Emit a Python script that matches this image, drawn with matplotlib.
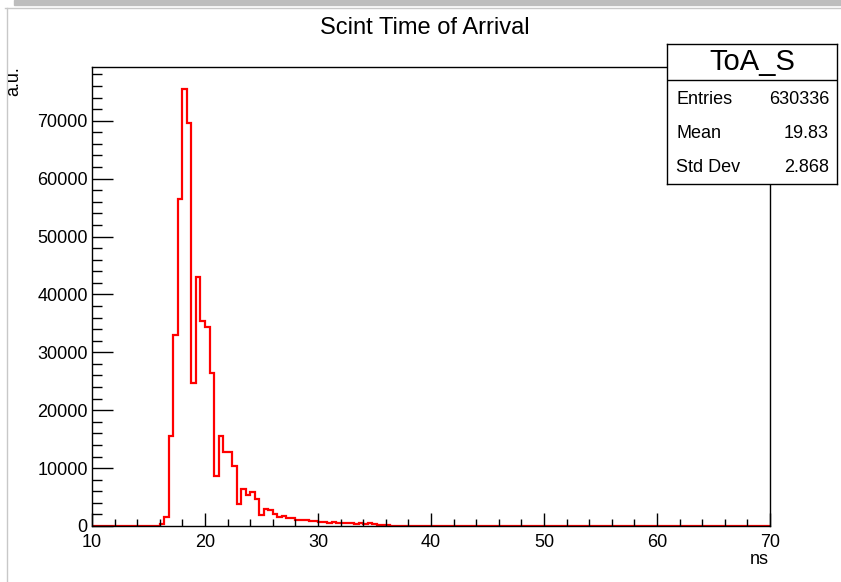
import numpy as np
import matplotlib
matplotlib.use("Agg")
import matplotlib.pyplot as plt
from matplotlib.lines import Line2D
from matplotlib.patches import Rectangle

plt.rcParams['font.family'] = ['Liberation Sans', 'DejaVu Sans']

# histogram ToA_S : 150 bins from 10 to 70 ns
x_lo = 10.0
x_hi = 70.0
n_bins = 150

# bin contents, starting at the bin 16.0-16.4 ns
counts_peak = [300, 1500, 15500, 33000, 56500, 75500, 69600, 24700, 43000,
               35400, 34400, 26500, 8700, 15500, 12700, 12700, 10300, 3800,
               6400, 5400, 5900, 4700, 1900, 3000, 2800, 2100, 1600, 1750,
               1300, 1400, 1100, 950, 1050, 900, 800, 700, 650, 600, 650,
               480, 600, 520, 500, 420, 440, 380, 500, 280, 220, 150, 100,
               80, 60, 50, 40, 30, 25, 20, 15, 10]
first_bin = 15  # bins 10.0 .. 16.0 are empty

stats_entries = "630336"
stats_mean = "19.83"
stats_std = "2.868"

edges = np.linspace(x_lo, x_hi, n_bins + 1)
counts = np.zeros(n_bins)
counts[first_bin:first_bin + len(counts_peak)] = counts_peak

fig = plt.figure(figsize=(8.41, 5.82), dpi=100)

# grey window border like the ROOT canvas screenshot
fig.patches.append(Rectangle((14 / 841, 1 - 5 / 582), 1, 5 / 582,
                             transform=fig.transFigure, color='#bdbdbd', zorder=0))
fig.lines.append(Line2D([5 / 841, 1], [1 - 7.5 / 582, 1 - 7.5 / 582],
                        transform=fig.transFigure, color='#c8c8c8', lw=1))
fig.lines.append(Line2D([7 / 841, 7 / 841], [0, 1 - 7.5 / 582],
                        transform=fig.transFigure, color='#c8c8c8', lw=1))

ax = fig.add_axes([92 / 841, 1 - 526 / 582, 678 / 841, 459 / 582])
ax.stairs(counts, edges, color='red', lw=1.6)
ax.set_xlim(x_lo, x_hi)
ax.set_ylim(0, 1.05 * counts.max())

ax.set_xticks(np.arange(10, 71, 10))
ax.set_xticks(np.arange(10, 71, 2), minor=True)
ax.set_yticks(np.arange(0, 70001, 10000))
ax.set_yticks(np.arange(0, 78001, 2000), minor=True)
ax.tick_params(axis='both', which='both', direction='in', labelsize=13,
               width=1, colors='black')
ax.tick_params(axis='x', which='major', length=9.5, pad=6)
ax.tick_params(axis='x', which='minor', length=4.7)
ax.tick_params(axis='y', which='major', length=15, pad=3)
ax.tick_params(axis='y', which='minor', length=7.5)
for s in ax.spines.values():
    s.set_linewidth(1)

fig.text(425 / 841, 1 - 28 / 582, "Scint Time of Arrival", ha='center',
         va='center', fontsize=17)
fig.text(14 / 841, 1 - 81 / 582, "a.u.", rotation=90, ha='center',
         va='center', fontsize=13)
fig.text(759 / 841, 1 - 560 / 582, "ns", ha='center', va='center', fontsize=13)

# stats box
sb = fig.add_axes([667 / 841, 1 - 184 / 582, 170 / 841, 140 / 582])
sb.set_xlim(0, 170)
sb.set_ylim(140, 0)
sb.set_xticks([])
sb.set_yticks([])
sb.set_facecolor('white')
for s in sb.spines.values():
    s.set_linewidth(1)
sb.axhline(36, color='black', lw=1)
sb.text(85, 18, "ToA_S", ha='center', va='center', fontsize=21)
rows = [("Entries", stats_entries), ("Mean", stats_mean), ("Std Dev", stats_std)]
for i, (name, val) in enumerate(rows):
    yy = 55 + i * 34
    sb.text(9, yy, name, ha='left', va='center', fontsize=13)
    sb.text(162, yy, val, ha='right', va='center', fontsize=13)

fig.savefig("out.png", dpi=100)
